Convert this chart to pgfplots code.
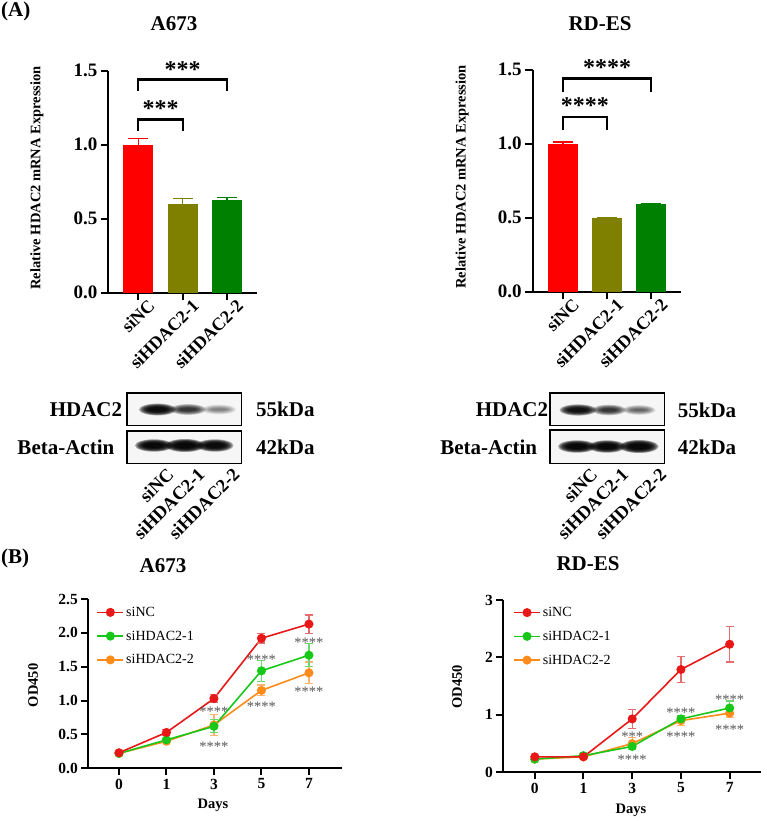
\documentclass[border=0pt]{standalone}
\usepackage{pgfplots}
\usepackage{pgfplotstable}
\pgfplotsset{compat=1.18}
\usepackage{fontspec}
\setmainfont{Liberation Serif}
\definecolor{cRed}{RGB}{255,0,0}
\definecolor{cOlive}{RGB}{128,128,0}
\definecolor{cGreen}{RGB}{0,128,0}
\definecolor{lRed}{RGB}{232,24,24}
\definecolor{lGreen}{RGB}{24,200,24}
\definecolor{lOrange}{RGB}{255,140,26}
\definecolor{eRed}{RGB}{228,110,110}
\definecolor{eGreen}{RGB}{110,215,110}
\definecolor{eOrange}{RGB}{252,180,110}
\definecolor{astGray}{RGB}{85,85,85}
\definecolor{blotBg}{RGB}{246,246,246}
\newcommand{\fs}[1]{\fontsize{#1}{#1}\selectfont}

% A673 proliferation (x index: 0=day0,1=day1,2=day3,3=day5,4=day7)
\pgfplotstableread{
x y e
0 0.23 0.01
1 0.53 0.04
2 1.03 0.06
3 1.92 0.07
4 2.13 0.135
}\aNC
\pgfplotstableread{
x y e
0 0.22 0.01
1 0.42 0.02
2 0.62 0.095
3 1.44 0.155
4 1.67 0.17
}\aGa
\pgfplotstableread{
x y e
0 0.22 0.01
1 0.40 0.02
2 0.64 0.155
3 1.15 0.08
4 1.41 0.16
}\aGb
% RD-ES proliferation
\pgfplotstableread{
x y e
0 0.27 0.02
1 0.27 0.03
2 0.93 0.17
3 1.79 0.22
4 2.23 0.31
}\rNC
\pgfplotstableread{
x y e
0 0.23 0.02
1 0.29 0.04
2 0.45 0.05
3 0.93 0.05
4 1.12 0.12
}\rGa
\pgfplotstableread{
x y e
0 0.23 0.02
1 0.27 0.02
2 0.50 0.10
3 0.90 0.08
4 1.03 0.07
}\rGb

% blurred western-blot band (picture coordinates): x, y, half width, half height, layer opacity
\newcommand{\band}[5]{%
 \foreach \k in {0,...,7}{%
  \fill[black, opacity=#5] (#1,#2) ellipse [x radius={#3+5-1.4*\k}, y radius={#4+2.6-0.55*\k}];
 }}

\pgfplotsset{
 barax/.style={scale only axis, width=148.7pt, height=222pt,
  xmin=-0.68, xmax=2.68, ymin=0, ymax=1.5, clip=false,
  axis x line=bottom, axis y line=left,
  x axis line style={-, line width=2.2pt}, y axis line style={-, line width=2.2pt},
  xtick={0,1,2}, xticklabels={siNC,siHDAC2-1,siHDAC2-2},
  ytick={0,0.5,1,1.5},
  tick align=outside,
  x tick style={line width=2.2pt, black}, y tick style={line width=2.2pt, black},
  major tick length=7.5pt,
  /pgf/number format/assume math mode=true,
  yticklabel style={font=\bfseries\fs{19}, /pgf/number format/fixed, /pgf/number format/fixed zerofill, /pgf/number format/precision=1},
  xticklabel style={font=\bfseries\fs{18}, rotate=45, anchor=east, xshift=11pt, yshift=-11pt},
  ylabel={Relative HDAC2 mRNA Expression},
  ylabel style={font=\bfseries\fs{14.5}, anchor=center},
 },
 lineax/.style={scale only axis, clip=false,
  axis x line=bottom, axis y line=left,
  x axis line style={-, line width=2pt}, y axis line style={-, line width=2pt},
  xtick={0,1,2,3,4}, xticklabels={0,1,3,5,7},
  xmin=-0.646, xmax=4.69, ymin=0,
  tick align=outside,
  x tick style={line width=2pt, black}, y tick style={line width=2pt, black},
  major tick length=7pt,
  /pgf/number format/assume math mode=true,
  ticklabel style={font=\bfseries\fs{15.5}},
  xlabel={Days}, ylabel={OD450},
  xlabel style={font=\bfseries\fs{14.5}, anchor=center},
  ylabel style={font=\bfseries\fs{14.5}, anchor=center},
  legend style={draw=none, fill=none, font=\fs{14}, row sep=9pt, inner xsep=2pt, inner ysep=0pt,
    legend cell align=left, anchor=north west},
  reverse legend,
  legend image code/.code={\draw[mark repeat=2,mark phase=2] plot coordinates {(0pt,0pt) (13pt,0pt) (26pt,0pt)};},
 },
 ln/.style n args={2}{color=#1, line width=1.6pt, mark=*, mark size=3.7pt, mark options={solid, fill=#1, draw=#1},
   error bars/.cd, y dir=both, y explicit,
   error bar style={#2, line width=1.2pt},
   error mark options={rotate=90, mark size=4pt, #2, line width=1.2pt}},
 blotax/.style={scale only axis, width=114.7pt, height=70.3pt, clip=false,
   ymin=-463.3, ymax=-393, axis line style={draw=none}, ytick=\empty,
   major tick length=0pt, xticklabels={siNC,siHDAC2-1,siHDAC2-2},
   xticklabel style={font=\bfseries\fs{18.5}, rotate=45, anchor=east, xshift=5pt, yshift=-13pt}},
}

\begin{document}
\begin{tikzpicture}[x=1pt,y=1pt]
\useasboundingbox (0,0) rectangle (767,-821);

% ---------- panel labels and titles ----------
\node[anchor=north west, font=\bfseries\fs{21}, inner sep=0pt] at (1,-2) {(A)};
\node[anchor=west, font=\bfseries\fs{21}, inner sep=0pt] at (1,-558) {(B)};
\node[font=\bfseries\fs{21}] at (174,-24) {A673};
\node[font=\bfseries\fs{21}] at (600,-24) {RD-ES};
\node[font=\bfseries\fs{21}] at (163,-566) {A673};
\node[font=\bfseries\fs{21}] at (588,-564) {RD-ES};

% ---------- A: qPCR bars, A673 ----------
\begin{axis}[barax, at={(108.3pt,-292.7pt)}, anchor=south west,
  ylabel style={at={(axis description cs:-0.48,0.517)}}]
\addplot[ybar, bar width=30pt, bar shift=0pt, fill=cRed, draw=none,
  error bars/.cd, y dir=plus, y explicit, error bar style={line width=1.5pt, cRed},
  error mark options={rotate=90, mark size=10pt, line width=1.5pt, cRed}]
  coordinates {(0,1.0) +- (0,0.043)};
\addplot[ybar, bar width=30pt, bar shift=0pt, fill=cOlive, draw=none,
  error bars/.cd, y dir=plus, y explicit, error bar style={line width=1.5pt, cOlive},
  error mark options={rotate=90, mark size=10pt, line width=1.5pt, cOlive}]
  coordinates {(1,0.60) +- (0,0.035)};
\addplot[ybar, bar width=30pt, bar shift=0pt, fill=cGreen, draw=none,
  error bars/.cd, y dir=plus, y explicit, error bar style={line width=1.5pt, cGreen},
  error mark options={rotate=90, mark size=10pt, line width=1.5pt, cGreen}]
  coordinates {(2,0.628) +- (0,0.014)};
\draw[line width=2.2pt] (axis cs:0,1.36) -- (axis cs:0,1.44) -- (axis cs:2,1.44) -- (axis cs:2,1.36);
\draw[line width=2.2pt] (axis cs:0,1.09) -- (axis cs:0,1.17) -- (axis cs:1,1.17) -- (axis cs:1,1.09);
\node[font=\bfseries\fs{24}, yshift=-5pt] at (axis cs:1,1.54) {***};
\node[font=\bfseries\fs{24}, yshift=-5pt] at (axis cs:0.5,1.28) {***};
\end{axis}

% ---------- A: qPCR bars, RD-ES ----------
\begin{axis}[barax, at={(532.7pt,-291.7pt)}, anchor=south west,
  ylabel style={at={(axis description cs:-0.475,0.517)}}]
\addplot[ybar, bar width=30pt, bar shift=0pt, fill=cRed, draw=none,
  error bars/.cd, y dir=plus, y explicit, error bar style={line width=1.5pt, cRed},
  error mark options={rotate=90, mark size=10pt, line width=1.5pt, cRed}]
  coordinates {(0,1.0) +- (0,0.01)};
\addplot[ybar, bar width=30pt, bar shift=0pt, fill=cOlive, draw=none,
  error bars/.cd, y dir=plus, y explicit, error bar style={line width=1.5pt, cOlive},
  error mark options={rotate=90, mark size=10pt, line width=1.5pt, cOlive}]
  coordinates {(1,0.495) +- (0,0.006)};
\addplot[ybar, bar width=30pt, bar shift=0pt, fill=cGreen, draw=none,
  error bars/.cd, y dir=plus, y explicit, error bar style={line width=1.5pt, cGreen},
  error mark options={rotate=90, mark size=10pt, line width=1.5pt, cGreen}]
  coordinates {(2,0.59) +- (0,0.006)};
\draw[line width=2.2pt] (axis cs:0,1.35) -- (axis cs:0,1.44) -- (axis cs:2,1.44) -- (axis cs:2,1.35);
\draw[line width=2.2pt] (axis cs:0,1.09) -- (axis cs:0,1.18) -- (axis cs:1,1.18) -- (axis cs:1,1.09);
\node[font=\bfseries\fs{24}, yshift=-5pt] at (axis cs:1,1.55) {****};
\node[font=\bfseries\fs{24}, yshift=-5pt] at (axis cs:0.5,1.29) {****};
\end{axis}

% ---------- A: western blots, A673 ----------
\begin{axis}[blotax, at={(127pt,-463.3pt)}, anchor=south west,
  xmin=127, xmax=241.7, xtick={160,191,226}]
\draw[line width=1.3pt, fill=blotBg] (axis cs:127,-393) rectangle (axis cs:241.7,-425.7);
\draw[line width=1.3pt, fill=blotBg] (axis cs:127,-431) rectangle (axis cs:241.7,-463.3);
\end{axis}
\band{157.5}{-409.5}{13.5}{3.3}{0.30}
\band{188}{-409.5}{13}{2.8}{0.17}
\band{219}{-409.5}{12}{2.2}{0.075}
\band{154}{-445.5}{14}{3.6}{0.32}
\band{185}{-445.5}{14.5}{3.9}{0.33}
\band{215}{-445.5}{13.5}{3.6}{0.31}
\node[anchor=east, font=\bfseries\fs{21}, inner sep=0pt] at (122.3,-409.5) {HDAC2};
\node[anchor=east, font=\bfseries\fs{21}, inner sep=0pt] at (114.5,-447) {Beta-Actin};
\node[anchor=west, font=\bfseries\fs{21}, inner sep=0pt] at (256,-409.5) {55kDa};
\node[anchor=west, font=\bfseries\fs{21}, inner sep=0pt] at (256,-447) {42kDa};

% ---------- A: western blots, RD-ES ----------
\begin{axis}[blotax, at={(550pt,-463.3pt)}, anchor=south west,
  xmin=550, xmax=665, xtick={584,615,653}]
\draw[line width=1.3pt, fill=blotBg] (axis cs:550,-393) rectangle (axis cs:665,-425.7);
\draw[line width=1.3pt, fill=blotBg] (axis cs:550,-430) rectangle (axis cs:665,-463.3);
\end{axis}
\band{578}{-410}{13.5}{3.0}{0.28}
\band{609}{-410}{12}{2.7}{0.17}
\band{639}{-410}{11.5}{2.2}{0.10}
\band{577}{-446.5}{14}{3.6}{0.32}
\band{607}{-446.5}{13.5}{3.6}{0.32}
\band{639}{-446.5}{14.5}{3.9}{0.33}
\node[anchor=east, font=\bfseries\fs{21}, inner sep=0pt] at (548.3,-410) {HDAC2};
\node[anchor=east, font=\bfseries\fs{21}, inner sep=0pt] at (537.3,-447) {Beta-Actin};
\node[anchor=west, font=\bfseries\fs{21}, inner sep=0pt] at (677.7,-410) {55kDa};
\node[anchor=west, font=\bfseries\fs{21}, inner sep=0pt] at (677.7,-447) {42kDa};

% ---------- B: CCK-8, A673 ----------
\begin{axis}[lineax, at={(88.3pt,-768.3pt)}, anchor=south west, width=253.4pt, height=169.3pt,
  ymax=2.5, ytick={0,0.5,1,1.5,2,2.5},
  yticklabel style={/pgf/number format/fixed, /pgf/number format/fixed zerofill, /pgf/number format/precision=1},
  ylabel style={at={(axis description cs:-0.218,0.49)}},
  xlabel style={at={(axis description cs:0.492,-0.217)}},
  legend style={at={(axis description cs:0.024,0.966)}}]
\addplot[ln={lOrange}{eOrange}] table[x=x, y=y, y error=e] {\aGb};
\addlegendentry{siHDAC2-2}
\addplot[ln={lGreen}{eGreen}] table[x=x, y=y, y error=e] {\aGa};
\addlegendentry{siHDAC2-1}
\addplot[ln={lRed}{eRed}] table[x=x, y=y, y error=e] {\aNC};
\addlegendentry{siNC}
\node[astGray, font=\fs{14.5}, yshift=-3pt] at (axis cs:2,0.875) {****};
\node[astGray, font=\fs{14.5}, yshift=-3pt] at (axis cs:2,0.37) {****};
\node[astGray, font=\fs{14.5}, yshift=-3pt] at (axis cs:3,1.65) {****};
\node[astGray, font=\fs{14.5}, yshift=-3pt] at (axis cs:3,0.955) {****};
\node[astGray, font=\fs{14.5}, yshift=-3pt] at (axis cs:4,1.90) {****};
\node[astGray, font=\fs{14.5}, yshift=-3pt] at (axis cs:4,1.18) {****};
\end{axis}

% ---------- B: CCK-8, RD-ES ----------
\begin{axis}[lineax, at={(503.3pt,-772.3pt)}, anchor=south west, width=258pt, height=172.3pt,
  ymax=3, ytick={0,1,2,3}, xmax=4.65,
  ylabel style={at={(axis description cs:-0.179,0.497)}},
  xlabel style={at={(axis description cs:0.495,-0.219)}},
  legend style={at={(axis description cs:0.03,0.971)}}]
\addplot[ln={lOrange}{eOrange}] table[x=x, y=y, y error=e] {\rGb};
\addlegendentry{siHDAC2-2}
\addplot[ln={lGreen}{eGreen}] table[x=x, y=y, y error=e] {\rGa};
\addlegendentry{siHDAC2-1}
\addplot[ln={lRed}{eRed}] table[x=x, y=y, y error=e] {\rNC};
\addlegendentry{siNC}
\node[astGray, font=\fs{14.5}, yshift=-3pt] at (axis cs:2,0.68) {***};
\node[astGray, font=\fs{14.5}, yshift=-3pt] at (axis cs:2,0.27) {****};
\node[astGray, font=\fs{14.5}, yshift=-3pt] at (axis cs:3,1.085) {****};
\node[astGray, font=\fs{14.5}, yshift=-3pt] at (axis cs:3,0.68) {****};
\node[astGray, font=\fs{14.5}, yshift=-3pt] at (axis cs:4,1.32) {****};
\node[astGray, font=\fs{14.5}, yshift=-3pt] at (axis cs:4,0.79) {****};
\end{axis}
\end{tikzpicture}
\end{document}
